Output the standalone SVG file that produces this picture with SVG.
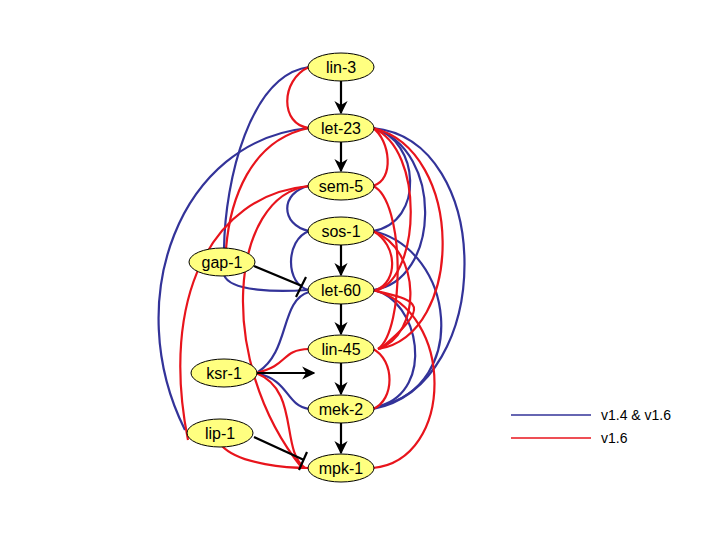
<svg xmlns="http://www.w3.org/2000/svg" width="720" height="540" viewBox="0 0 720 540">
<defs>
<marker id="ar" viewBox="0 0 10 10" refX="9" refY="5" markerWidth="6" markerHeight="6" orient="auto"><path d="M0,0 L10,5 L0,10 L3,5 z" fill="#000"/></marker>
<style>
.n ellipse{fill:#ffff80;stroke:#000;stroke-width:1}
.n text{font-family:"Liberation Sans",Arial,sans-serif;font-size:16px;text-anchor:middle;fill:#000}
.b{fill:none;stroke:#333399;stroke-width:2.2}
.r{fill:none;stroke:#e8141c;stroke-width:2.2}
.k{fill:none;stroke:#000;stroke-width:2.2}
.lg{font-family:"Liberation Sans",Arial,sans-serif;font-size:14px;fill:#000}
</style>
</defs>
<rect width="720" height="540" fill="#fff"/>
<g id="connectors">
<path class="b" d="M309,67 C250,75 225,180 224,249"/>
<path class="b" d="M309,128 C180,140 120,300 185,430"/>
<path class="b" d="M309,186 C280,192 280,225 309,231"/>
<path class="b" d="M309,231 C285,240 285,285 309,290"/>
<path class="b" d="M224,275 C230,292 280,292 307,290"/>
<path class="b" d="M309,292 C280,300 290,352 258,372"/>
<path class="b" d="M256,373 C290,380 285,405 309,409"/>
<path class="b" d="M373,128 C420,140 425,222 373,231"/>
<path class="b" d="M373,128 C445,150 440,282 373,290"/>
<path class="b" d="M373,128 C495,140 495,385 373,409"/>
<path class="b" d="M373,231 C455,250 470,385 380,406"/>
<path class="b" d="M373,290 C420,300 435,390 380,406"/>
<path class="r" d="M309,67 C280,80 280,125 309,128"/>
<path class="r" d="M309,128 C250,140 230,200 226,249"/>
<path class="r" d="M309,186 C210,195 160,300 188,440"/>
<path class="r" d="M309,186 C230,195 215,360 302,468"/>
<path class="r" d="M373,128 C390,140 395,180 373,186"/>
<path class="r" d="M373,128 C425,150 420,275 378,290"/>
<path class="r" d="M373,128 C465,150 465,335 378,349"/>
<path class="r" d="M373,186 C405,200 405,330 378,349"/>
<path class="r" d="M373,231 C398,245 398,282 376,290"/>
<path class="r" d="M373,231 C422,250 422,335 378,349"/>
<path class="r" d="M373,290 C455,310 455,460 373,468"/>
<path class="r" d="M373,290 C410,300 440,300 380,349"/>
<path class="r" d="M256,373 C290,365 280,350 309,349"/>
<path class="r" d="M256,373 C300,390 280,450 305,468"/>
<path class="r" d="M222,446 C240,465 290,468 309,468"/>
<path class="r" d="M373,349 C395,360 395,400 373,409"/>
<path class="k" d="M341,81 V113" marker-end="url(#ar)"/>
<path class="k" d="M341,142 V171" marker-end="url(#ar)"/>
<path class="k" d="M341,245 V275" marker-end="url(#ar)"/>
<path class="k" d="M341,304 V334" marker-end="url(#ar)"/>
<path class="k" d="M341,363 V394" marker-end="url(#ar)"/>
<path class="k" d="M341,423 V453" marker-end="url(#ar)"/>
<path class="k" d="M256,373 H314" marker-end="url(#ar)"/>
<path class="k" d="M254,266 L302,286 M296,297 L306,277"/>
<path class="k" d="M254,437 L304,460 M299,470 L307,452"/>
</g>
<g id="lin-3" class="n"><ellipse cx="341" cy="67" rx="33" ry="14"/><text x="341" y="73">lin-3</text></g>
<g id="let-23" class="n"><ellipse cx="341" cy="128" rx="33" ry="14"/><text x="341" y="134">let-23</text></g>
<g id="sem-5" class="n"><ellipse cx="341" cy="186" rx="33" ry="14"/><text x="341" y="192">sem-5</text></g>
<g id="sos-1" class="n"><ellipse cx="341" cy="231" rx="33" ry="14"/><text x="341" y="237">sos-1</text></g>
<g id="let-60" class="n"><ellipse cx="341" cy="290" rx="33" ry="14"/><text x="341" y="296">let-60</text></g>
<g id="lin-45" class="n"><ellipse cx="341" cy="349" rx="33" ry="14"/><text x="341" y="355">lin-45</text></g>
<g id="mek-2" class="n"><ellipse cx="341" cy="409" rx="33" ry="14"/><text x="341" y="415">mek-2</text></g>
<g id="mpk-1" class="n"><ellipse cx="341" cy="468" rx="33" ry="14"/><text x="341" y="474">mpk-1</text></g>
<g id="gap-1" class="n"><ellipse cx="222" cy="262" rx="33" ry="14"/><text x="222" y="268">gap-1</text></g>
<g id="ksr-1" class="n"><ellipse cx="224" cy="373" rx="33" ry="14"/><text x="224" y="379">ksr-1</text></g>
<g id="lip-1" class="n"><ellipse cx="220" cy="433" rx="33" ry="14"/><text x="220" y="439">lip-1</text></g>
<g id="legend">
<line x1="511" y1="415" x2="591" y2="415" stroke="#333399" stroke-width="1.5"/>
<line x1="511" y1="438" x2="591" y2="438" stroke="#e8141c" stroke-width="1.5"/>
<text class="lg" x="601" y="420">v1.4 &amp; v1.6</text>
<text class="lg" x="601" y="443">v1.6</text>
</g>
</svg>
